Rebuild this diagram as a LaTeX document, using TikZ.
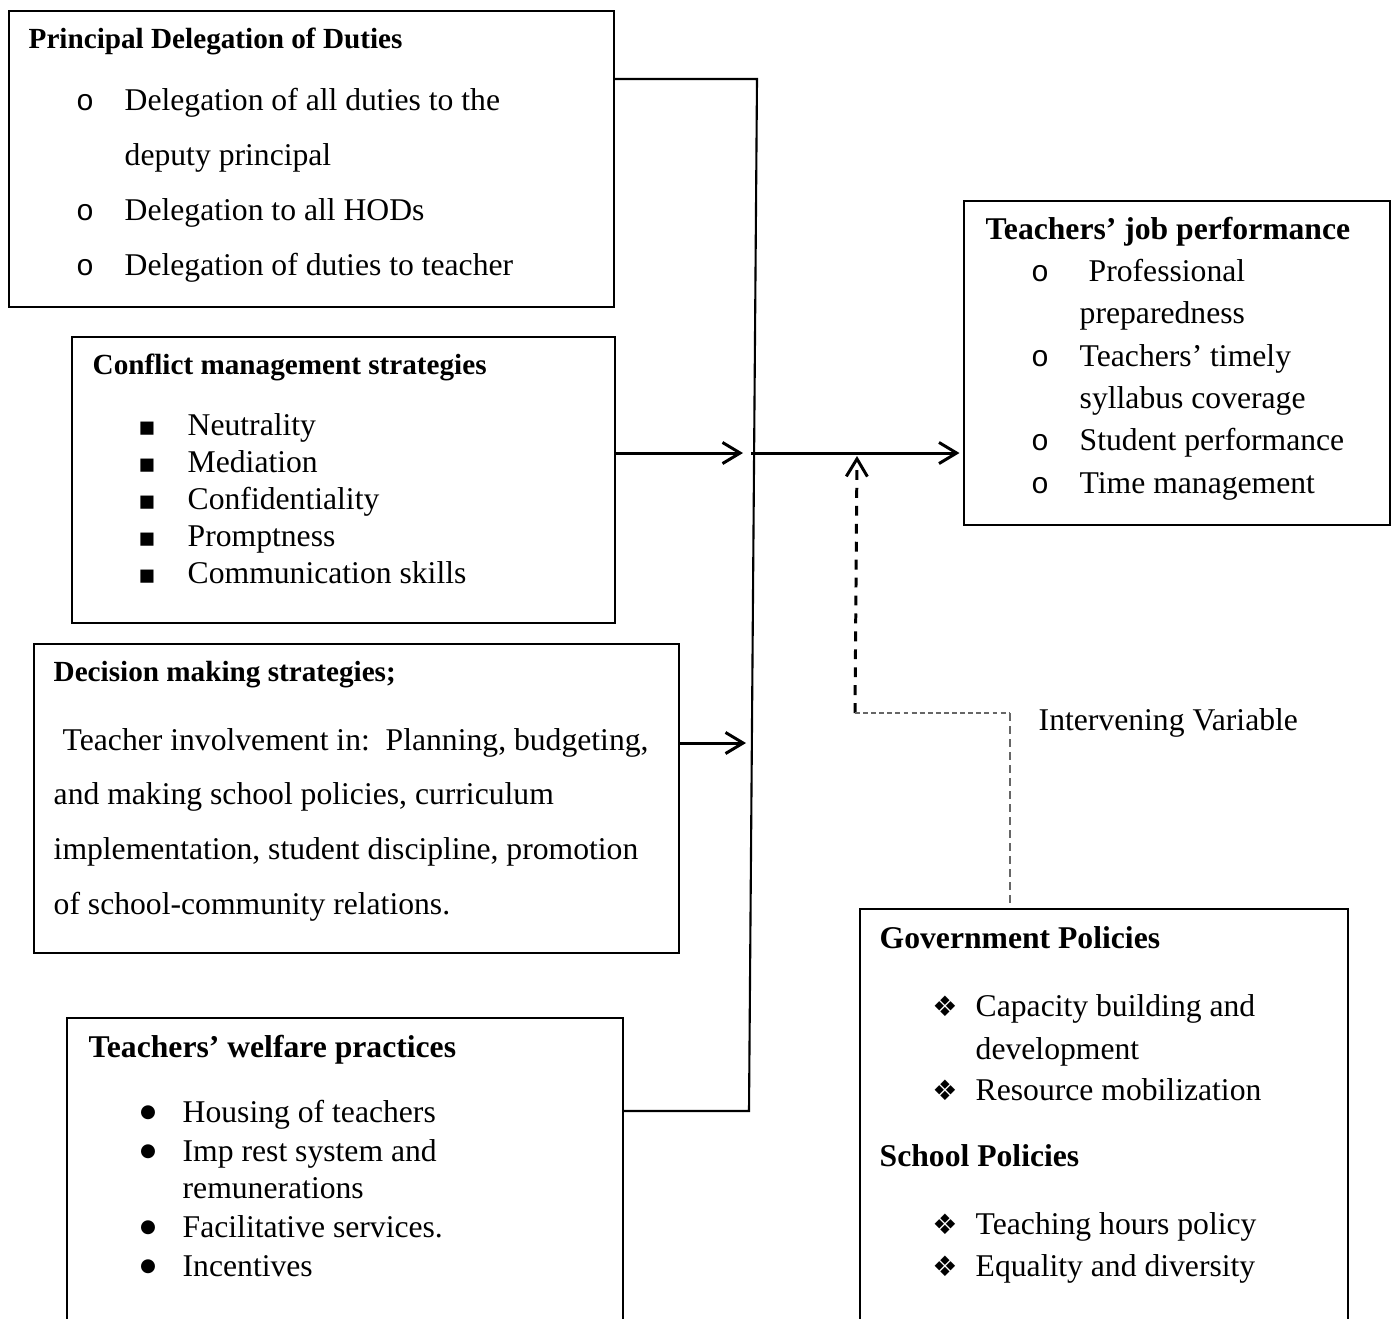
\documentclass[tikz,border=0pt]{standalone}
\usepackage{fontspec}
\setmainfont{Liberation Serif}
\newfontfamily\symfam{DejaVu Sans}
\newfontfamily\ofam{Liberation Mono}
\usetikzlibrary{arrows.meta}

\begin{document}
\begin{tikzpicture}[x=0.01cm,y=-0.01cm,>={Straight Barb[length=5pt,width=6pt]},
	box/.style={draw,line width=0.45pt,anchor=north west,inner sep=0},
	txt/.style={anchor=base west,inner sep=0,font=\fontsize{9}{11}\selectfont},
	ttl/.style={anchor=base west,inner sep=0,font=\fontsize{9}{11}\selectfont\bfseries},
	sttl/.style={anchor=base west,inner sep=0,font=\fontsize{8.3}{10}\selectfont\bfseries},
	obul/.style={anchor=base,inner sep=0,font=\fontsize{8.5}{11}\ofam\mdseries},
	sbul/.style={anchor=base,inner sep=0,font=\fontsize{7.5}{9}\symfam},
	dbul/.style={anchor=base,inner sep=0,yshift=1.4pt,font=\fontsize{5.2}{6}\symfam},
	kbul/.style={anchor=base,inner sep=0,font=\fontsize{8}{10}\symfam},
	link/.style={line width=0.6pt},
	arr/.style={->,line width=0.85pt}]
	\clip(0,0)rectangle(1391,1318);
	% boxes
	\node[box,minimum width=6.05cm,minimum height=2.96cm](deleg)at(8,10){};
	\node[box,minimum width=5.43cm,minimum height=2.86cm](confl)at(71,336){};
	\node[box,minimum width=6.45cm,minimum height=3.09cm](decis)at(33,643){};
	\node[box,minimum width=5.56cm,minimum height=3.83cm](welf)at(66,1017){};
	\node[box,minimum width=4.26cm,minimum height=3.24cm](perf)at(963,200){};
	\node[box,minimum width=4.88cm,minimum height=4.92cm](gov)at(859,908){};
	% principal delegation of duties
	\node[sttl](delegT)at(28,48){Principal Delegation of Duties};
	\foreach \y in {110,220,275}\node[obul](ob\y)at(85,\y){o};
	\foreach \y/\t [count=\i] in {110/Delegation of all duties to the,165/deputy principal,220/Delegation to all HODs,275/Delegation of duties to teacher}
		\node[txt](delegL\i)at(124,\y){\t};
	% conflict management
	\node[sttl](conflT)at(92,374){Conflict management strategies};
	\foreach \y/\t [count=\i] in {435/Neutrality,472/Mediation,509/Confidentiality,546/Promptness,583/Communication skills}{
		\node[sbul](sq\i)at(147,\y){▪};
		\node[txt](conflL\i)at(187,\y){\t};}
	% decision making
	\node[sttl](decisT)at(53,681){Decision making strategies;};
	\node[txt](decisL1)at(62,750){Teacher involvement in:\ \ Planning, budgeting,};
	\foreach \y/\t [count=\i from 2] in {804/{and making school policies, curriculum},859/{implementation, student discipline, promotion},914/of school-community relations.}
		\node[txt](decisL\i)at(53,\y){\t};
	% welfare
	\node[ttl](welfT)at(88,1057){Teachers’ welfare practices};
	\foreach \y in {1122,1161,1237,1276}\node[dbul](db\y)at(148,\y){●};
	\foreach \y/\t [count=\i] in {1122/Housing of teachers,1161/Imp rest system and,1198/remunerations,1237/Facilitative services.,1276/Incentives}
		\node[txt](welfL\i)at(182,\y){\t};
	% job performance
	\node[ttl](perfT)at(985,239){Teachers’ job performance};
	\foreach \y in {281,366,450,493}\node[obul](pb\y)at(1040,\y){o};
	\node[txt](perfL1)at(1088,281){Professional};
	\foreach \y/\t [count=\i from 2] in {323/preparedness,366/Teachers’ timely,408/syllabus coverage,450/Student performance,493/Time management}
		\node[txt](perfL\i)at(1079,\y){\t};
	% policies
	\node[ttl](govT)at(879,948){Government Policies};
	\foreach \y in {1016,1100,1234,1276}\node[kbul](kb\y)at(945,\y){❖};
	\foreach \y/\t [count=\i] in {1016/Capacity building and,1059/development,1100/Resource mobilization}
		\node[txt](govL\i)at(975,\y){\t};
	\node[ttl](schT)at(879,1166){School Policies};
	\node[txt](schL1)at(975,1234){Teaching hours policy};
	\node[txt](schL2)at(975,1276){Equality and diversity};
	\node[txt](interv)at(1038,730){Intervening Variable};
	% connectors
	\coordinate(jt)at(757,79);
	\coordinate(jb)at(749,1111);
	\coordinate(ca)at(743,453);
	\coordinate(mid)at(751,453);
	\coordinate(da)at(746,743);
	\coordinate(dc)at(855,713);
	\coordinate(dtop)at(857,456);
	\coordinate(dk)at(1010,713);
	\draw[link](deleg.east|-jt)--(jt)--(jb)--(welf.east|-jb);
	\draw[arr](confl.east|-ca)--(ca);
	\draw[arr](mid)--([xshift=-1pt]perf.west|-mid);
	\draw[arr](decis.east|-da)--(da);
	\draw[arr,dash pattern=on 2.8pt off 2.3pt](dc)--(dtop);
	\draw[line width=0.35pt,gray!80!black,dash pattern=on 1.4pt off 0.9pt](dc)--(dk);
	\draw[line width=0.45pt,gray!80!black,dash pattern=on 2.3pt off 1.4pt](dk)--(dk|-gov.north);
\end{tikzpicture}
\end{document}
